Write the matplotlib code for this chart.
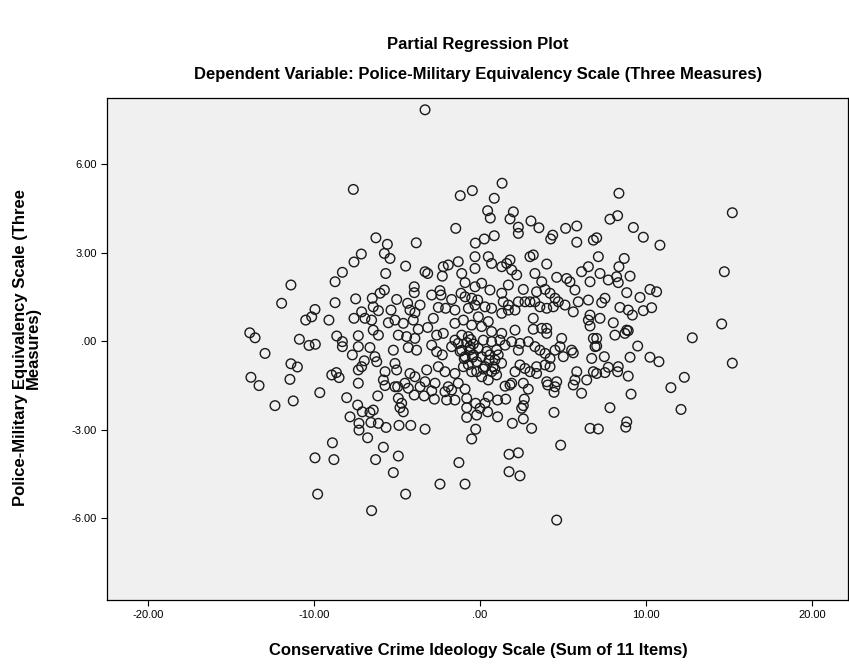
import matplotlib
matplotlib.use("Agg")
import matplotlib.pyplot as plt
from matplotlib.ticker import FuncFormatter

plt.rcParams['font.family'] = ['Liberation Sans', 'DejaVu Sans']

# residuals: (ideology residual, equivalency residual)
top_pts = [
    (-7.63, 5.14), (-3.31, 7.84), (-1.19, 4.93), (-0.46, 5.10), (-1.46, 3.82),
    (-6.27, 3.50), (-5.58, 3.28), (-3.84, 3.33), (-0.28, 3.32), (1.33, 5.35),
    (0.86, 4.84), (0.46, 4.42), (0.62, 4.17), (2.01, 4.38), (1.81, 4.14),
    (2.31, 3.86), (2.31, 3.65), (3.07, 4.07), (3.55, 3.84), (4.38, 3.59),
    (4.26, 3.46), (5.16, 3.82), (5.83, 3.90), (5.83, 3.35), (6.83, 3.42),
    (7.03, 3.50), (0.26, 3.46), (0.86, 3.57), (8.37, 5.01), (8.29, 4.25),
    (7.83, 4.13), (9.24, 3.85), (9.84, 3.52), (10.84, 3.25), (15.2, 4.35),
]

left_pts = [
    (-7.59, 2.68), (-8.29, 2.33), (-8.73, 2.01), (-11.39, 1.90), (-11.95, 1.28),
    (-8.73, 1.30), (-7.49, 1.43), (-9.94, 1.07), (-10.14, 0.82), (-10.5, 0.71),
    (-9.10, 0.71), (-7.59, 0.77), (-7.15, 2.95), (-13.87, 0.28), (-13.55, 0.11),
    (-12.95, -0.42), (-10.88, 0.06), (-10.30, -0.15), (-9.92, -0.11), (-8.63, 0.17),
    (-8.29, -0.02), (-8.29, -0.19), (-7.69, -0.47), (-7.33, 0.18), (-7.33, -0.19),
    (-11.39, -0.77), (-11.0, -0.88), (-13.8, -1.23), (-13.31, -1.51), (-11.45, -1.30),
    (-8.93, -1.15), (-8.65, -1.07), (-8.49, -1.24), (-7.33, -0.98), (-7.33, -1.43),
    (-12.35, -2.19), (-11.25, -2.03), (-9.65, -1.75), (-8.03, -1.92), (-7.83, -2.57),
    (-7.37, -2.17), (-7.29, -2.79), (-7.29, -3.02), (-8.89, -3.45), (-9.94, -3.96),
    (-8.80, -4.02), (-9.78, -5.19),
]

center_left_pts = [
    (-5.76, 2.97), (-5.42, 2.80), (-4.48, 2.54), (-5.68, 2.29), (-3.31, 2.35),
    (-3.15, 2.29), (-2.21, 2.52), (-1.91, 2.58), (-1.31, 2.69), (-2.27, 2.20),
    (-1.10, 2.29), (-0.30, 2.86), (-0.30, 2.46), (-0.90, 1.98), (-3.96, 1.84),
    (-3.96, 1.64), (-5.76, 1.73), (-6.02, 1.62), (-6.49, 1.45), (-5.02, 1.41),
    (-2.91, 1.56), (-2.41, 1.71), (-2.35, 1.56), (-1.71, 1.41), (-1.14, 1.62),
    (-0.90, 1.50), (-0.50, 1.45), (-0.30, 1.84), (-4.36, 1.28), (-3.61, 1.22),
    (-6.43, 1.16), (-6.12, 1.03), (-7.13, 0.99), (-5.36, 1.05), (-4.22, 1.05),
    (-3.92, 0.96), (-2.51, 1.14), (-2.07, 1.11), (-1.51, 1.05), (-0.70, 1.11),
    (-0.30, 1.22), (-6.93, 0.77), (-6.53, 0.71), (-5.52, 0.62), (-5.12, 0.71),
    (-4.62, 0.60), (-4.02, 0.71), (-2.81, 0.77), (-3.15, 0.46), (-3.72, 0.40),
    (-1.51, 0.60), (-1.0, 0.71), (-0.50, 0.54), (-6.43, 0.37), (-6.12, 0.20),
    (-4.92, 0.20), (-4.42, 0.15), (-3.92, 0.09), (-2.61, 0.20), (-2.21, 0.26),
    (-1.51, 0.03), (-1.10, 0.20), (-0.70, 0.15), (-6.63, -0.22), (-4.32, -0.22),
    (-3.82, -0.31), (-2.91, -0.14), (-2.61, -0.36), (-2.27, -0.47), (-1.71, -0.19),
    (-1.31, -0.08), (-1.10, -0.31), (-0.60, -0.19), (-0.90, -0.53), (-0.40, -0.47),
    (-6.33, -0.53), (-6.97, -0.67), (-7.13, -0.87), (-6.22, -0.70), (-5.22, -0.31),
    (-5.12, -0.76), (-5.02, -0.98), (-5.72, -1.04), (-5.82, -1.32), (-4.22, -1.10),
    (-3.92, -1.21), (-3.21, -0.98), (-3.31, -1.38), (-2.51, -0.87), (-2.11, -1.04),
    (-1.51, -1.10), (-1.00, -0.87), (-0.50, -1.04), (-2.71, -1.43), (-1.91, -1.55),
    (-1.31, -1.43), (-4.52, -1.43), (-5.12, -1.55), (-0.6, -0.3), (-0.8, -0.05),
    (-0.4, -0.1), (-1.2, -0.35), (-0.55, 0.05), (-0.95, -0.6),
]

center_right_pts = [
    (3.21, 2.92), (3.01, 2.86), (4.02, 2.61), (0.50, 2.86), (0.70, 2.63),
    (1.31, 2.52), (1.61, 2.63), (1.81, 2.75), (1.91, 2.41), (2.21, 2.24),
    (3.31, 2.29), (3.72, 2.01), (4.62, 2.16), (5.22, 2.12), (5.42, 2.01),
    (6.12, 2.35), (6.53, 2.52), (6.63, 2.01), (5.72, 1.73), (5.92, 1.33),
    (5.62, 0.99), (6.63, 0.88), (6.53, 1.39), (6.63, 0.51), (0.10, 1.96),
    (0.60, 1.73), (1.31, 1.62), (1.71, 1.90), (2.61, 1.75), (3.41, 1.67),
    (3.92, 1.75), (4.22, 1.62), (4.52, 1.45), (4.72, 1.33), (4.42, 1.16),
    (4.02, 1.11), (5.12, 1.22), (-0.14, 1.39), (0.30, 1.16), (0.70, 1.11),
    (1.40, 1.33), (1.71, 1.22), (2.11, 1.05), (1.71, 1.05), (2.31, 1.33),
    (2.71, 1.33), (3.01, 1.33), (3.31, 1.33), (3.61, 1.16), (1.31, 0.94),
    (-0.10, 0.82), (0.50, 0.66), (3.21, 0.77), (3.21, 0.40), (3.72, 0.43),
    (4.02, 0.43), (4.02, 0.26), (2.11, 0.37), (6.53, 0.71), (6.83, 0.09),
    (6.93, -0.19), (6.73, -0.59), (4.92, 0.09), (4.82, -0.19), (5.52, -0.31),
    (5.62, -0.40), (4.52, -0.31), (5.02, -0.53), (4.22, -0.59), (0.10, 0.49),
    (0.70, 0.32), (1.31, 0.26), (0.20, 0.03), (0.70, -0.02), (1.20, 0.03),
    (1.51, -0.14), (1.91, -0.02), (2.41, -0.08), (2.91, -0.02), (3.31, -0.19),
    (3.61, -0.31), (3.92, -0.42), (2.31, -0.31), (-0.10, -0.25), (0.10, -0.53),
    (0.60, -0.47), (0.90, -0.64), (1.10, -0.47), (0.80, -0.87), (0.70, -1.04),
    (1.0, -1.15), (0.30, -0.87), (0.10, -1.21), (0.50, -1.32), (-0.20, -1.04),
    (2.11, -1.04), (2.41, -0.81), (2.71, -0.93), (3.01, -1.04), (3.41, -0.87),
    (3.41, -1.10), (3.92, -0.81), (4.22, -0.87), (2.61, -1.43), (1.91, -1.43),
    (4.02, -1.38), (4.62, -1.38), (5.72, -1.32), (5.83, -1.04), (6.43, -1.32),
    (6.83, -1.04), (1.51, -1.53), (-0.2, -0.7), (0.4, -0.35), (0.9, -0.95),
    (-0.7, -0.8), (1.3, -0.75), (0.2, -0.95), (-0.45, -0.55), (0.55, -0.65),
    (1.0, -0.3),
]

right_pts = [
    (7.13, 2.86), (8.69, 2.80), (8.37, 2.52), (7.23, 2.29), (7.73, 2.07),
    (8.23, 2.18), (8.33, 1.98), (9.04, 2.20), (14.72, 2.35), (10.24, 1.75),
    (10.64, 1.67), (8.84, 1.64), (9.64, 1.48), (7.53, 1.45), (7.33, 1.30),
    (8.43, 1.14), (8.93, 1.05), (9.18, 0.88), (9.84, 1.03), (10.34, 1.13),
    (7.23, 0.77), (8.03, 0.62), (14.56, 0.58), (8.84, 0.37), (8.73, 0.26),
    (8.13, 0.20), (8.93, 0.35), (7.03, 0.09), (12.79, 0.11), (9.5, -0.17),
    (7.03, -0.17), (7.49, -0.53), (9.04, -0.55), (10.24, -0.55), (10.78, -0.70),
    (7.73, -0.89), (8.33, -0.87), (8.29, -1.04), (7.53, -1.07), (8.93, -1.19),
    (7.03, -1.10), (12.31, -1.23), (15.2, -0.75),
]

lower_pts = [
    (-6.16, -1.86), (-6.53, -5.75), (-4.48, -5.19), (-5.22, -4.46), (-6.29, -4.02),
    (-4.92, -3.90), (-5.82, -3.60), (-6.77, -3.28), (-6.57, -2.76), (-6.12, -2.79),
    (-5.66, -2.93), (-4.88, -2.86), (-4.17, -2.86), (-3.31, -2.99), (-2.41, -4.85),
    (-1.27, -4.12), (-0.90, -4.85), (-0.50, -3.32), (-0.26, -2.99), (-0.80, -2.59),
    (-0.80, -2.26), (-0.80, -1.94), (-0.26, -2.11), (-0.2, -2.51), (-7.09, -2.40),
    (-6.43, -2.34), (-6.63, -2.42), (-4.92, -1.94), (-4.72, -2.11), (-4.82, -2.26),
    (-4.62, -2.40), (-3.96, -1.83), (-3.36, -1.86), (-2.91, -1.69), (-2.75, -1.97),
    (-2.11, -1.72), (-2.01, -2.0), (-1.51, -2.0), (-1.71, -1.66), (-4.96, -1.55),
    (-4.32, -1.60), (-3.61, -1.55), (-5.72, -1.51), (-0.90, -1.63),
    (4.62, -6.07), (1.75, -4.43), (2.41, -4.57), (1.75, -3.84), (2.31, -3.79),
    (4.86, -3.53), (6.63, -2.96), (7.13, -2.98), (3.11, -2.96), (1.95, -2.79),
    (2.61, -2.64), (2.51, -2.28), (2.61, -2.19), (2.67, -1.97), (4.46, -2.42),
    (4.46, -1.74), (6.12, -1.77), (2.91, -1.63), (1.81, -1.49), (1.06, -2.57),
    (1.55, -1.97), (1.06, -2.0), (0.50, -1.89), (0.46, -2.40), (0.0, -2.28),
    (0.3, -2.11), (4.08, -1.49), (4.52, -1.55), (5.62, -1.49),
    (9.1, -1.80), (7.83, -2.26), (11.5, -1.58), (12.11, -2.32), (8.84, -2.74),
    (8.78, -2.92),
]

x_ticks = [-20, -10, 0, 10, 20]
y_ticks = [-6, -3, 0, 3, 6]

title = "Partial Regression Plot"
subtitle = "Dependent Variable: Police-Military Equivalency Scale (Three Measures)"
x_label = "Conservative Crime Ideology Scale (Sum of 11 Items)"
y_label = "Police-Military Equivalency Scale (Three\nMeasures)"

all_pts = top_pts + left_pts + center_left_pts + center_right_pts + right_pts + lower_pts
xs = [p[0] for p in all_pts]
ys = [p[1] for p in all_pts]

W, H = 849, 668
fig = plt.figure(figsize=(W / 100, H / 100), dpi=100)
fig.patch.set_facecolor('white')

# plot box in pixels: left 107, right 848, top 98, bottom 600
ax = fig.add_axes([107 / W, 1 - 600 / H, (848 - 107) / W, (600 - 98) / H])
ax.set_facecolor('#f0f0f0')
ax.scatter(xs, ys, s=48, facecolors='none', edgecolors='#1a1a1a', linewidths=1.0)

ax.set_xlim(-22.47, 22.17)
ax.set_ylim(-8.78, 8.24)
ax.set_xticks(x_ticks)
ax.set_yticks(y_ticks)


def spss_fmt(v, pos):
    s = f"{v:.2f}"
    if s.startswith("0"):
        s = s[1:]
    elif s.startswith("-0"):
        s = "-" + s[2:]
    return s


ax.xaxis.set_major_formatter(FuncFormatter(spss_fmt))
ax.yaxis.set_major_formatter(FuncFormatter(spss_fmt))
ax.tick_params(direction='out', length=4, width=0.8, labelsize=8, colors='black')
for sp in ax.spines.values():
    sp.set_color('black')
    sp.set_linewidth(0.9)

fig.text(478 / W, 1 - 45 / H, title, ha='center', va='center', fontsize=12, fontweight='bold')
fig.text(478 / W, 1 - 75 / H, subtitle, ha='center', va='center', fontsize=12, fontweight='bold')
fig.text(478 / W, 1 - 650 / H, x_label, ha='center', va='center', fontsize=12, fontweight='bold')
fig.text(27 / W, 1 - 348 / H, y_label, ha='center', va='center', rotation=90,
         fontsize=12, fontweight='bold', linespacing=0.85)

fig.savefig("out.png", dpi=100)
